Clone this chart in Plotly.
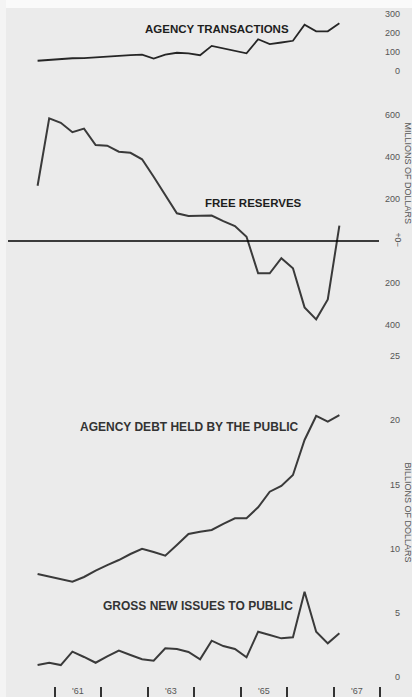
import plotly.graph_objects as go

# ---------------- data (quarterly) ----------------
quarters = ["1960 Q3", "1960 Q4",
            "1961 Q1", "1961 Q2", "1961 Q3", "1961 Q4",
            "1962 Q1", "1962 Q2", "1962 Q3", "1962 Q4",
            "1963 Q1", "1963 Q2", "1963 Q3", "1963 Q4",
            "1964 Q1", "1964 Q2", "1964 Q3", "1964 Q4",
            "1965 Q1", "1965 Q2", "1965 Q3", "1965 Q4",
            "1966 Q1", "1966 Q2", "1966 Q3", "1966 Q4",
            "1967 Q1"]

# millions of dollars
agency_transactions = [54, 59, 65, 67, 68, 72, 76, 82, 84, 86, 65, 86, 96, 93,
                       83, 132, 118, 105, 93, 167, 142, 150, 159, 244, 209, 209, 251]
free_reserves = [263, 584, 563, 518, 535, 457, 454, 425, 420, 389, 306, 219, 132, 119,
                 121, 121, 95, 71, 20, -154, -154, -82, -130, -316, -373, -278, 73]
# billions of dollars
agency_debt_public = [8.02, 7.83, 7.63, 7.42, 7.79, 8.29, 8.72, 9.11, 9.58, 9.99, 9.74,
                      9.45, 10.28, 11.14, 11.32, 11.45, 11.92, 12.36, 12.36, 13.22,
                      14.43, 14.88, 15.73, 18.46, 20.33, 19.88, 20.4]
gross_new_issues = [0.93, 1.11, 0.93, 1.97, 1.56, 1.11, 1.6, 2.05, 1.71, 1.38, 1.27,
                    2.24, 2.18, 1.95, 1.38, 2.83, 2.41, 2.18, 1.53, 3.53, 3.27, 3.01,
                    3.09, 6.64, 3.53, 2.62, 3.4]

year_ticks = [1961, 1962, 1963, 1964, 1965, 1966, 1967, 1968]
year_labels = ["'61", "'63", "'65", "'67"]
year_label_pos = [1961.5, 1963.5, 1965.5, 1967.5]

tx_ticks = [0, 100, 200, 300]
fr_ticks = [600, 400, 200, -200, -400]
fr_text = ["600", "400", "200", "200", "400"]
bil_ticks = [0, 5, 10, 15, 20, 25]

# ---------------- geometry helpers ----------------
W, H = 412, 697
x = [int(q[:4]) + (int(q[-1]) - 0.5) / 4 for q in quarters]


def yr(px):
    return 1961 + (px - 55) / 46.43


def fx(px):
    return px / W


def fy(py):
    return 1 - py / H


def dom(top, bot):
    return [fy(bot), fy(top)]


def rng(zero, scale, top, bot):
    return [(zero - bot) / scale, (zero - top) / scale]


LINE = "#3a3a3a"
TICKFONT = dict(family="Liberation Sans, Arial, sans-serif", size=9, color="#555")

fig = go.Figure()
fig.add_trace(go.Scatter(x=x, y=agency_transactions, mode="lines", yaxis="y",
                         line=dict(color="#262626", width=1.8), showlegend=False))
fig.add_trace(go.Scatter(x=x, y=free_reserves, mode="lines", yaxis="y2",
                         line=dict(color=LINE, width=2), showlegend=False))
fig.add_trace(go.Scatter(x=x, y=agency_debt_public, mode="lines", yaxis="y3",
                         line=dict(color=LINE, width=2), showlegend=False))
fig.add_trace(go.Scatter(x=x, y=gross_new_issues, mode="lines", yaxis="y3",
                         line=dict(color=LINE, width=2), showlegend=False))

yax_common = dict(showgrid=False, zeroline=False, showline=False, ticks="",
                  anchor="free", side="right", ticklabelposition="inside",
                  position=fx(403), tickfont=TICKFONT, fixedrange=True)

fig.update_layout(
    width=W, height=H,
    margin=dict(l=0, r=0, t=0, b=0),
    paper_bgcolor="#ebebeb", plot_bgcolor="rgba(0,0,0,0)",
    xaxis=dict(domain=[0, 1], range=[yr(0), yr(W)], showgrid=False, zeroline=False,
               showline=False, tickvals=year_ticks, showticklabels=False,
               ticks="inside", ticklen=10, tickwidth=1.5, tickcolor="#333",
               anchor="free", position=0, fixedrange=True),
    yaxis=dict(domain=dom(5, 85), range=rng(71, 0.19, 5, 85), tickvals=tx_ticks,
               **yax_common),
    yaxis2=dict(domain=dom(95, 340), range=rng(241, 0.21, 95, 340), tickvals=fr_ticks,
                ticktext=fr_text, **yax_common),
    yaxis3=dict(domain=dom(345, 695), range=rng(677, 12.84, 345, 695), tickvals=bil_ticks,
                **yax_common),
)

# background details of the scanned page
fig.add_shape(type="rect", xref="paper", yref="paper", x0=0, x1=1, y0=fy(8), y1=1,
              fillcolor="#fafafa", line_width=0, layer="below")
fig.add_shape(type="rect", xref="paper", yref="paper", x0=0, x1=fx(6), y0=0, y1=1,
              fillcolor="#f4f4f4", line_width=0, layer="below")

# zero line of free reserves
fig.add_shape(type="line", xref="x", yref="y2", x0=yr(8), x1=yr(379), y0=0, y1=0,
              line=dict(color="#000000", width=1.4))

TITLE_TOP = dict(family="Liberation Sans, Arial, sans-serif", size=11.5, color="#1e1e1e")
TITLE_BOT = dict(family="Liberation Sans, Arial, sans-serif", size=12, color="#333")


def note(text, px, py, font, angle=0):
    fig.add_annotation(text=text, xref="paper", yref="paper", x=fx(px), y=fy(py),
                       showarrow=False, font=font, textangle=angle,
                       xanchor="center", yanchor="middle")


note("<b>AGENCY TRANSACTIONS</b>", 216.5, 29, TITLE_TOP)
note("<b>FREE RESERVES</b>", 253.7, 203.3, TITLE_TOP)
note("<b>AGENCY DEBT HELD BY THE PUBLIC</b>", 189.7, 427.3, TITLE_BOT)
note("<b>GROSS NEW ISSUES TO PUBLIC</b>", 197.7, 606, TITLE_BOT)

AX_T = dict(family="Liberation Sans, Arial, sans-serif", size=9, color="#555")
note("MILLIONS OF DOLLARS", 407.5, 173, AX_T, angle=90)
note("BILLIONS OF DOLLARS", 407.5, 512, AX_T, angle=90)
note("+0\u2212", 397.5, 240, dict(family="Liberation Sans, Arial, sans-serif", size=8.5,
                                   color="#555"), angle=90)

for lab, pos in zip(year_labels, year_label_pos):
    fig.add_annotation(text=lab, xref="x", yref="paper", x=pos, y=fy(691),
                       showarrow=False, font=TICKFONT, xanchor="center",
                       yanchor="middle")

fig.write_html("out.html", config={"displayModeBar": False},
               post_script="document.body.style.margin='0';")
